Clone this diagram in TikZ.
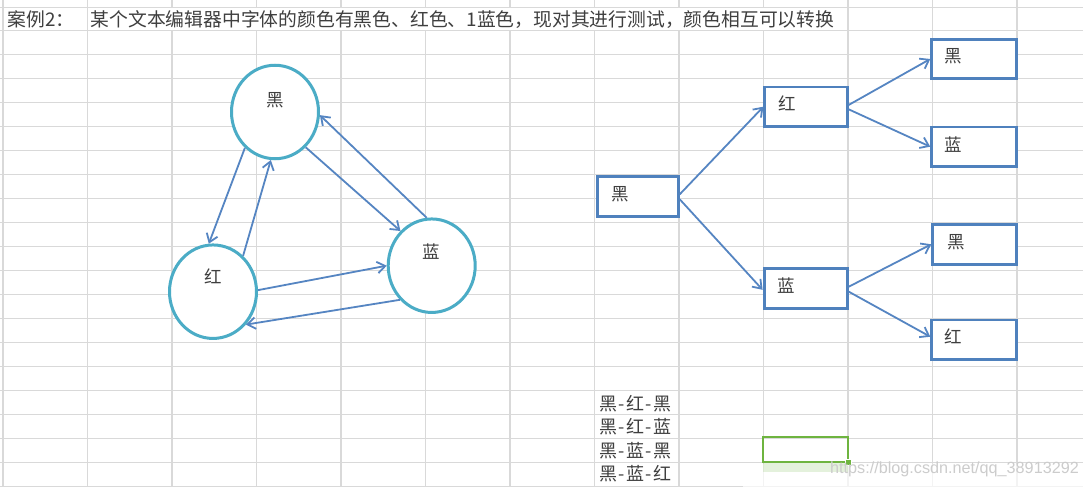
\documentclass[tikz,border=0pt]{standalone}
\usepackage{fontspec}
\newfontfamily\cjk{Noto Sans CJK SC}
\newfontfamily\wmfont{Liberation Sans}
\usetikzlibrary{shapes.geometric,arrows.meta}
\definecolor{gridc}{HTML}{D9D9D9}
\definecolor{circc}{HTML}{4BACC6}
\definecolor{arrc}{HTML}{5585C2}
\definecolor{boxc}{HTML}{4F81BD}
\definecolor{txt}{HTML}{3F3F3F}
\definecolor{selg}{HTML}{6EB43F}
\newcommand\myhy{\makebox[0.5em]{-}}
\tikzset{
  gridline/.style={draw=gridc,line width=1.1pt},
  ttl/.style={font=\cjk\fontsize{18.8}{22}\selectfont,text=txt,inner sep=0pt},
  lbl/.style={font=\cjk\fontsize{17.5}{20}\selectfont,text=txt,inner sep=0pt},
  circnode/.style={ellipse,draw=circc,line width=3pt,fill=white,minimum width=87pt,minimum height=93.5pt,inner sep=0pt},
  treebox/.style={rectangle,draw=boxc,line width=2.9pt,fill=white,minimum height=39.5pt,inner sep=0pt},
  arr/.style={draw=arrc,line width=1.8pt,-{Straight Barb[length=8pt,width=11.5pt]}},
  listtxt/.style={font=\cjk\fontsize{18}{20}\selectfont,text=txt,inner sep=0pt,anchor=west},
}
\begin{document}
\begin{tikzpicture}[x=1pt,y=-1pt]
\useasboundingbox (0,0) rectangle (1083,487);
\fill[white] (0,0) rectangle (1083,487);
% spreadsheet grid
\draw[gridline] (0,7.3) -- (1083,7.3);
\foreach \k in {0,...,19} \draw[gridline] (0,{30.7+24*\k}) -- (1083,{30.7+24*\k});
\foreach \k in {0,1,10,11,12} \draw[gridline] ({3+84.5*\k},0) -- ({3+84.5*\k},487);
\foreach \k in {2,...,9} {
  \draw[gridline] ({3+84.5*\k},0) -- ({3+84.5*\k},7.3);
  \draw[gridline] ({3+84.5*\k},30.7) -- ({3+84.5*\k},487);
}
% title
\node[ttl,anchor=west] (case) at (7.5,19.5) {案例2：};
\node[ttl,anchor=west] (desc) at (90.5,19.5) {某个文本编辑器中字体的颜色有黑色、红色、1蓝色，现对其进行测试，颜色相互可以转换};

% state graph
\node[circnode,label={[lbl,yshift=12pt]center:黑}] (K) at (275,112) {};
\node[circnode,label={[lbl,yshift=15pt]center:红}] (R) at (213,291.7) {};
\node[circnode,label={[lbl,yshift=14pt]center:蓝}] (B) at (431.7,265.7) {};
\draw[arr] (K.230.3) -- (R.95.7);
\draw[arr] (R.50.6) -- (K.265.9);
\draw[arr] (K.311) -- (B.132.8);
\draw[arr] (B.96.1) -- (K.356);
\draw[arr] (R.2.2) -- (B.180);
\draw[arr] (B.227.3) -- (R.315.4);

% tree
\node[treebox,minimum width=81pt,label={[lbl,anchor=west,xshift=15pt,yshift=2.5pt]west:黑}] (T0) at (637.8,196.3) {};
\node[treebox,minimum width=82.3pt,label={[lbl,anchor=west,xshift=15pt,yshift=3pt]west:红}] (T1) at (806,106.7) {};
\node[treebox,minimum width=83.3pt,label={[lbl,anchor=west,xshift=15pt,yshift=3pt]west:蓝}] (T2) at (805.7,288.3) {};
\node[treebox,minimum width=85pt,label={[lbl,anchor=west,xshift=14pt,yshift=2.5pt]west:黑}] (T3) at (974.2,59) {};
\node[treebox,minimum width=85pt,label={[lbl,anchor=west,xshift=14pt,yshift=2.5pt]west:蓝}] (T4) at (974.2,146.7) {};
\node[treebox,minimum width=84pt,label={[lbl,anchor=west,xshift=16pt,yshift=2.5pt]west:黑}] (T5) at (974.7,244.3) {};
\node[treebox,minimum width=85pt,label={[lbl,anchor=west,xshift=14pt,yshift=3.5pt]west:红}] (T6) at (974.2,339.7) {};
\draw[arr] ([yshift=2pt]T0.east) -- (T1.west);
\draw[arr] ([yshift=-3pt]T0.east) -- ([yshift=-1.5pt]T2.west);
\draw[arr] ([yshift=1.7pt]T1.east) -- (T3.west);
\draw[arr] ([yshift=-2.6pt]T1.east) -- (T4.west);
\draw[arr] ([yshift=1.6pt]T2.east) -- (T5.west);
\draw[arr] ([yshift=-3.4pt]T2.east) -- ([yshift=3pt]T6.west);

% list of paths
\node[listtxt] (p1) at (599,403.5) {黑\myhy 红\myhy 黑};
\node[listtxt] (p2) at (599,427) {黑\myhy 红\myhy 蓝};
\node[listtxt] (p3) at (599,450.5) {黑\myhy 蓝\myhy 黑};
\node[listtxt] (p4) at (599,474) {黑\myhy 蓝\myhy 红};

% watermark overlay
\fill[white,opacity=0.7,rounded corners=10pt] (743,463.5) rectangle (1095,500);
\fill[selg,opacity=0.18] (762.7,463) rectangle (848.3,472);
% selected cell
\node[draw=selg,line width=2.2pt,minimum width=85.6pt,minimum height=25pt,inner sep=0pt] (sel) at (805.5,449.8) {};
\fill[selg,draw=white,line width=0.6pt] (845.3,459.5) rectangle (850.8,465);
\node[font=\wmfont\fontsize{16.2}{18}\selectfont,text=gray!40,inner sep=0pt,anchor=west] (wm) at (830,469) {https://blog.csdn.net/qq\_38913292};
\end{tikzpicture}
\end{document}
